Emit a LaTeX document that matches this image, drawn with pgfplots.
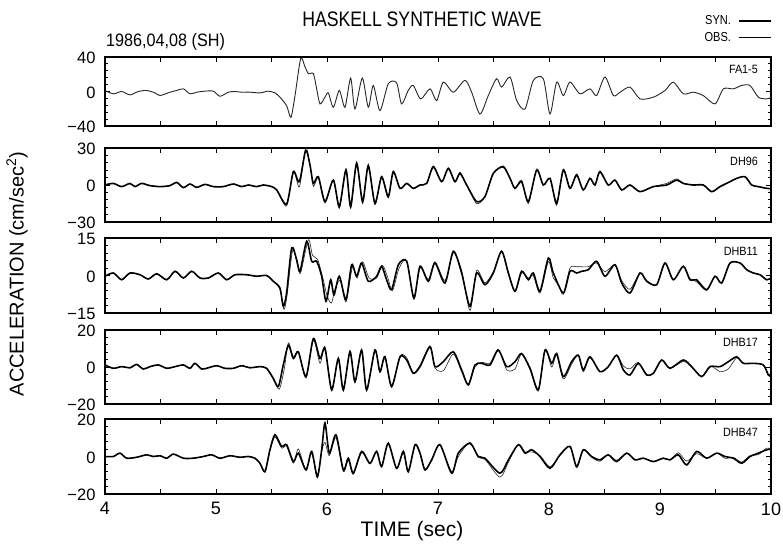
\documentclass[border=0pt]{standalone}
\usepackage{fontspec}
\setmainfont{Liberation Sans}
\usepackage{pgfplots}
\pgfplotsset{compat=1.18}

\pgfplotsset{
  wave/.style={
    scale only axis, width=666pt,
    xmin=4, xmax=10,
    xtick={4,4.5,...,10}, xticklabels={},
    tick align=inside, major tick length=5pt, minor tick length=3pt,
    every tick/.style={black, line width=0.9pt},
    axis line style={line width=1.3pt},
    tick label style={font=\fontsize{16.5}{16.5}\selectfont},
    yticklabel style={xshift=-6pt, yshift=-1pt},
    ytick pos=both, xtick pos=both,
    clip=true,
  },
  syn/.style={black, line width=1.6pt, smooth, tension=0.45},
  obs/.style={black!85, line width=0.6pt, smooth, tension=0.45},
}
\tikzset{stn/.style={font=\fontsize{12}{12}\selectfont, anchor=north east, xscale=0.9}}

\begin{document}
\begin{tikzpicture}
\path[use as bounding box] (0,0) rectangle (783pt,-547pt);

% headings
\node[font=\fontsize{21}{21}\selectfont, xscale=0.84] at (422pt,-19pt) {HASKELL SYNTHETIC WAVE};
\node[font=\fontsize{18}{18}\selectfont, anchor=west, xscale=0.9] at (103pt,-42pt) {1986,04,08 (SH)};
\node[font=\fontsize{13}{13}\selectfont, anchor=east, xscale=0.85] at (734pt,-20pt) {SYN.};
\node[font=\fontsize{13}{13}\selectfont, anchor=east, xscale=0.85] at (734pt,-37pt) {OBS.};
\draw[line width=1.6pt] (739pt,-21pt) -- (771pt,-21pt);
\draw[line width=0.6pt] (739pt,-37pt) -- (771pt,-37pt);

% axis titles
\node[font=\fontsize{20}{20}\selectfont, rotate=90] at (17pt,-274pt) {ACCELERATION (cm/sec\textsuperscript{2})};
\node[font=\fontsize{21}{21}\selectfont] at (412pt,-531pt) {TIME (sec)};

% FA1-5
\begin{axis}[wave, at={(105pt,-57pt)}, anchor=north west, height=69pt,
  ymin=-40, ymax=40, ytick={-40,0,40}, yticklabels={−40,0,40},
  minor ytick={-32,-24,...,32}]
\addplot[obs, line width=0.9pt] coordinates {
(4.000,1.2)(4.075,-2.7)(4.150,0)(4.225,-3.9)(4.300,0)(4.375,1.2)(4.450,-1.6)(4.496,-4.7)(4.586,-0.8)(4.646,1.2)(4.706,3.1)(4.766,-2.7)(4.826,-0.8)(4.901,0.4)(4.976,0.4)(5.036,-5.5)(5.111,-0.8)(5.171,0)(5.231,-0.8)(5.306,-0.8)(5.396,-1.6)(5.471,0.4)(5.531,-1.6)(5.576,-6.6)(5.636,-16.4)(5.675,-30.0)(5.712,-4.7)(5.763,38.2)(5.802,28.5)(5.832,20.7)(5.877,20.7)(5.907,3.1)(5.937,-14.4)(5.982,-6.6)(6.012,-1.6)(6.057,-18.3)(6.111,1.2)(6.162,-18.3)(6.213,15.6)(6.252,-20.3)(6.318,15.6)(6.372,-18.3)(6.417,7.0)(6.477,-22.2)(6.552,9.0)(6.627,10.1)(6.672,-14.4)(6.732,1.2)(6.777,7.0)(6.844,-8.6)(6.928,3.1)(6.988,-10.5)(7.048,10.9)(7.138,-0.8)(7.243,12.9)(7.303,-0.8)(7.378,-26.1)(7.453,-4.7)(7.528,14.8)(7.573,5.1)(7.649,16.8)(7.709,-10.5)(7.784,-20.3)(7.859,12.9)(7.949,14.8)(8.009,-26.1)(8.069,10.9)(8.129,-4.7)(8.189,10.9)(8.279,-2.7)(8.369,3.1)(8.429,-4.7)(8.504,16.8)(8.580,-4.7)(8.640,-0.8)(8.730,5.1)(8.820,-8.6)(8.940,-6.6)(9.045,1.2)(9.120,10.9)(9.210,-2.7)(9.300,-0.8)(9.390,-4.7)(9.496,-14.4)(9.571,3.1)(9.661,3.1)(9.736,7.0)(9.811,7.0)(9.886,-6.6)(9.961,-8.6)(10,-7)};
\node[stn] at (rel axis cs:0.985,0.93) {FA1-5};
\end{axis}

% DH96
\begin{axis}[wave, at={(105pt,-148pt)}, anchor=north west, height=74pt,
  ymin=-30, ymax=30, ytick={-30,0,30}, yticklabels={−30,0,30},
  minor ytick={-24,-18,...,24}]
\addplot[obs] coordinates {
(4.000,0)(4.075,1.3)(4.150,-1.3)(4.225,1.3)(4.270,-1.3)(4.330,1.3)(4.405,-0.5)(4.496,-1.3)(4.586,-0.5)(4.646,2.1)(4.706,-2.1)(4.766,0.8)(4.826,-1.9)(4.901,0.5)(4.976,-1.3)(5.066,-1.3)(5.156,0.8)(5.231,-1.3)(5.291,0)(5.366,-1.3)(5.426,0)(5.501,-1.3)(5.547,-4.0)(5.636,-17.0)(5.697,11.5)(5.751,-1.5)(5.808,30.0)(5.847,16.1)(5.877,-1.0)(5.922,6.0)(5.982,-14.5)(6.057,4.0)(6.111,-19.0)(6.171,13.0)(6.213,-19.0)(6.267,19.0)(6.321,-15.0)(6.372,17.0)(6.432,-16.0)(6.492,6.0)(6.552,-10.5)(6.597,11.5)(6.658,-2.7)(6.718,1.3)(6.777,-2.7)(6.838,0)(6.898,1.3)(6.958,15.5)(7.033,2.7)(7.093,14.0)(7.153,2.7)(7.198,10.5)(7.258,0)(7.348,-15.0)(7.423,-9.4)(7.498,9.4)(7.588,15.5)(7.649,5.4)(7.693,-2.7)(7.753,4.0)(7.814,-15.0)(7.889,13.0)(7.949,0)(8.009,5.4)(8.069,-16.5)(8.129,13.0)(8.189,-2.7)(8.249,9.0)(8.309,-4.0)(8.369,5.4)(8.414,0)(8.459,11.5)(8.534,0)(8.594,4.0)(8.655,-4.0)(8.730,0)(8.820,-5.4)(8.940,-1.3)(9.060,1.3)(9.150,5.0)(9.210,1.3)(9.300,0)(9.390,0)(9.466,-5.4)(9.541,-1.3)(9.631,2.7)(9.691,5.4)(9.766,6.7)(9.826,0)(9.886,-1.3)(9.961,-2.7)(10,-3)};
\addplot[syn] coordinates {
(4.000,0)(4.075,1.3)(4.150,-1.3)(4.225,1.3)(4.270,-1.3)(4.330,1.3)(4.405,-0.5)(4.496,-1.3)(4.586,-0.5)(4.646,2.1)(4.706,-2.1)(4.766,0.8)(4.826,-1.9)(4.901,0.5)(4.976,-1.3)(5.066,-1.3)(5.156,0.8)(5.231,-1.3)(5.291,0)(5.366,-1.3)(5.426,0)(5.501,-1.3)(5.547,-4.0)(5.636,-15.5)(5.697,10.7)(5.751,2.7)(5.808,28.1)(5.847,16.1)(5.877,1.3)(5.922,6.7)(5.982,-13.4)(6.057,4.0)(6.111,-17.4)(6.171,12.1)(6.213,-17.4)(6.267,17.4)(6.321,-13.4)(6.372,15.5)(6.432,-14.7)(6.492,6.7)(6.552,-9.4)(6.597,10.7)(6.658,-2.7)(6.718,1.3)(6.777,-2.7)(6.838,0)(6.898,1.3)(6.958,14.7)(7.033,2.7)(7.093,13.4)(7.153,2.7)(7.198,9.4)(7.258,0)(7.348,-13.4)(7.423,-9.4)(7.498,9.4)(7.588,14.7)(7.649,5.4)(7.693,-2.7)(7.753,2.7)(7.814,-13.4)(7.889,12.1)(7.949,0)(8.009,5.4)(8.069,-14.7)(8.129,12.1)(8.189,-2.7)(8.249,8.0)(8.309,-4.0)(8.369,5.4)(8.414,0)(8.459,10.7)(8.534,0)(8.594,4.0)(8.655,-4.0)(8.730,0)(8.820,-5.4)(8.940,-1.3)(9.060,0)(9.150,4.0)(9.210,1.3)(9.300,0)(9.390,0)(9.466,-5.4)(9.541,-1.3)(9.631,2.7)(9.691,5.4)(9.766,6.7)(9.826,0)(9.886,-1.3)(9.961,-2.7)(10,-3)};
\node[stn] at (rel axis cs:0.985,0.93) {DH96};
\end{axis}

% DHB11
\begin{axis}[wave, at={(105pt,-238pt)}, anchor=north west, height=75pt,
  ymin=-15, ymax=15, ytick={-15,0,15}, yticklabels={−15,0,15},
  minor ytick={-12,-9,...,12}]
\addplot[obs] coordinates {
(4.000,-0.3)(4.075,1.0)(4.150,-1.7)(4.225,1.0)(4.315,0.3)(4.390,-1.4)(4.466,0.7)(4.556,-1.7)(4.631,1.7)(4.706,-1.0)(4.781,1.7)(4.856,-1.0)(4.931,-1.0)(5.021,1.0)(5.096,-1.7)(5.171,0.3)(5.276,0.3)(5.366,-0.3)(5.456,0)(5.516,-2.3)(5.576,-5.5)(5.612,-13.5)(5.640,-8.0)(5.690,10.0)(5.735,4.0)(5.762,1.0)(5.832,14.3)(5.870,8.0)(5.915,6.5)(5.960,-0.5)(6.000,-8.0)(6.040,-11.0)(6.075,-5.0)(6.120,-2.0)(6.171,-10.5)(6.230,3.5)(6.270,-1.0)(6.320,5.5)(6.380,-1.0)(6.447,-1.0)(6.500,4.0)(6.545,-0.5)(6.590,-6.0)(6.650,3.0)(6.718,6.0)(6.783,-9.5)(6.838,3.0)(6.913,-1.5)(6.973,5.5)(7.063,-2.0)(7.138,9.0)(7.213,2.0)(7.288,-14.0)(7.348,2.0)(7.423,-3.0)(7.498,1.5)(7.573,9.7)(7.634,0.5)(7.694,-6.5)(7.753,1.0)(7.814,-1.0)(7.859,0.0)(7.919,-7.0)(7.994,5.5)(8.039,-1.0)(8.090,-4.0)(8.129,-7.5)(8.189,3.0)(8.249,3.5)(8.294,3.5)(8.354,3.5)(8.429,5.0)(8.504,1.5)(8.594,4.3)(8.655,-2.0)(8.730,-5.5)(8.820,1.0)(8.880,-2.0)(8.970,-3.7)(9.045,5.0)(9.120,-1.7)(9.210,3.7)(9.270,-1.2)(9.330,-2.5)(9.420,-6.0)(9.496,-0.3)(9.556,-3.0)(9.631,5.0)(9.721,5.0)(9.781,2.3)(9.841,1.0)(9.901,0.3)(9.961,-1.7)(10,-1)};
\addplot[syn] coordinates {
(4.000,-0.3)(4.075,1.0)(4.150,-1.7)(4.225,1.0)(4.315,0.3)(4.390,-1.4)(4.466,0.7)(4.556,-1.7)(4.631,1.7)(4.706,-1.0)(4.781,1.7)(4.856,-1.0)(4.931,-1.0)(5.021,1.0)(5.096,-1.7)(5.171,0.3)(5.276,0.3)(5.366,-0.3)(5.456,0)(5.516,-2.3)(5.576,-5.0)(5.606,-12.3)(5.636,-7.0)(5.682,11.0)(5.727,6.3)(5.757,1.7)(5.817,13.7)(5.862,5.7)(5.907,5.7)(5.952,-0.3)(5.991,-10.3)(6.033,-1.7)(6.063,-7.7)(6.111,-0.3)(6.171,-9.7)(6.222,4.3)(6.267,-0.3)(6.312,5.0)(6.372,-2.3)(6.447,-0.3)(6.492,3.7)(6.537,-1.7)(6.582,-5.7)(6.643,4.3)(6.718,5.7)(6.783,-9.0)(6.838,3.7)(6.913,-2.3)(6.973,5.0)(7.063,-3.0)(7.138,9.7)(7.213,1.0)(7.288,-12.3)(7.348,1.0)(7.423,-3.7)(7.498,1.0)(7.573,9.7)(7.634,1.0)(7.694,-6.3)(7.753,1.7)(7.814,-1.7)(7.859,1.0)(7.919,-6.3)(7.994,7.0)(8.039,1.0)(8.129,-7.0)(8.189,1.7)(8.249,1.0)(8.294,1.7)(8.354,2.3)(8.429,5.7)(8.504,-0.3)(8.594,4.3)(8.655,-3.0)(8.730,-7.0)(8.820,1.0)(8.880,-2.3)(8.970,-3.7)(9.045,5.0)(9.120,-1.7)(9.210,3.7)(9.270,-1.7)(9.330,-1.7)(9.420,-5.7)(9.496,-0.3)(9.556,-3.0)(9.631,5.0)(9.721,5.0)(9.781,2.3)(9.841,1.0)(9.901,0.3)(9.961,-1.7)(10,-1)};
\node[stn] at (rel axis cs:0.985,0.93) {DHB11};
\end{axis}

% DHB17
\begin{axis}[wave, at={(105pt,-330pt)}, anchor=north west, height=74pt,
  ymin=-20, ymax=20, ytick={-20,0,20}, yticklabels={−20,0,20},
  minor ytick={-16,-12,...,16}]
\addplot[obs] coordinates {
(4.000,1.1)(4.075,-0.7)(4.150,0.2)(4.225,-0.4)(4.285,1.4)(4.345,-1.1)(4.405,0.2)(4.481,1.1)(4.556,-0.7)(4.631,0.2)(4.706,1.1)(4.766,-0.7)(4.811,2.0)(4.871,-1.1)(4.931,-0.4)(5.006,0.7)(5.081,-0.7)(5.156,-0.7)(5.231,0.7)(5.306,-0.4)(5.396,0.2)(5.456,-0.7)(5.516,-6.5)(5.570,-12.0)(5.615,-1.0)(5.652,13.0)(5.697,5.5)(5.742,8.5)(5.811,-6.0)(5.877,14.5)(5.937,2.0)(5.982,11.0)(6.042,-13.0)(6.102,5.0)(6.147,-13.0)(6.207,9.0)(6.252,-8.5)(6.312,9.5)(6.357,-13.0)(6.432,9.5)(6.477,-3.0)(6.522,6.0)(6.582,-11.0)(6.658,6.0)(6.718,5.0)(6.777,-3.0)(6.838,1.0)(6.928,11.5)(6.973,-0.5)(7.048,-2.0)(7.138,7.0)(7.213,-2.5)(7.273,-10.0)(7.333,0.0)(7.393,2.5)(7.468,2.0)(7.543,9.5)(7.619,-1.5)(7.694,-1.0)(7.753,7.0)(7.829,-1.5)(7.904,-13.0)(7.964,9.5)(8.024,0.0)(8.069,6.5)(8.129,-6.5)(8.204,1.5)(8.264,6.4)(8.309,-2.5)(8.369,5.0)(8.459,-2.5)(8.534,0.2)(8.610,6.4)(8.670,0.5)(8.730,-1.0)(8.805,2.5)(8.880,-4.3)(8.940,-3.4)(9.015,3.8)(9.090,-0.7)(9.210,3.0)(9.285,0.0)(9.375,-5.2)(9.451,0.5)(9.541,-2.5)(9.616,-1.0)(9.691,5.0)(9.751,2.0)(9.841,2.0)(9.931,1.1)(9.976,-4.3)(10,-5)};
\addplot[syn] coordinates {
(4.000,1.1)(4.075,-0.7)(4.150,0.2)(4.225,-0.4)(4.285,1.4)(4.345,-1.1)(4.405,0.2)(4.481,1.1)(4.556,-0.7)(4.631,0.2)(4.706,1.1)(4.766,-0.7)(4.811,2.0)(4.871,-1.1)(4.931,-0.4)(5.006,0.7)(5.081,-0.7)(5.156,-0.7)(5.231,0.7)(5.306,-0.4)(5.396,0.2)(5.456,-0.7)(5.516,-6.1)(5.562,-10.5)(5.606,1.1)(5.652,11.8)(5.697,4.6)(5.742,8.2)(5.811,-5.2)(5.877,15.4)(5.937,4.6)(5.982,10.0)(6.042,-12.3)(6.102,4.6)(6.147,-12.3)(6.207,8.2)(6.252,-7.9)(6.312,9.1)(6.357,-12.3)(6.432,9.1)(6.477,-2.5)(6.522,5.5)(6.582,-10.5)(6.658,5.5)(6.718,3.8)(6.777,-3.4)(6.838,0.2)(6.928,10.9)(6.973,0.2)(7.048,2.9)(7.138,8.2)(7.213,-1.6)(7.273,-9.6)(7.333,1.1)(7.393,2.0)(7.468,1.1)(7.543,9.1)(7.619,0.2)(7.694,2.9)(7.753,7.3)(7.829,-0.7)(7.904,-12.3)(7.964,9.1)(8.024,2.0)(8.069,7.3)(8.129,-5.2)(8.204,2.9)(8.264,6.4)(8.309,-1.6)(8.369,5.5)(8.459,-2.5)(8.534,0.2)(8.610,6.4)(8.670,-1.6)(8.730,-4.3)(8.805,2.0)(8.880,-4.3)(8.940,-3.4)(9.015,3.8)(9.090,-0.7)(9.210,3.8)(9.285,0.2)(9.375,-5.2)(9.451,0.2)(9.541,0.2)(9.616,2.9)(9.691,5.5)(9.751,2.0)(9.841,2.0)(9.931,1.1)(9.976,-4.3)(10,-5)};
\node[stn] at (rel axis cs:0.985,0.93) {DHB17};
\end{axis}

% DHB47
\begin{axis}[wave, at={(105pt,-419pt)}, anchor=north west, height=75pt,
  ymin=-20, ymax=20, ytick={-20,0,20}, yticklabels={−20,0,20},
  minor ytick={-16,-12,...,16},
  xticklabels={4,,5,,6,,7,,8,,9,,10},
  xticklabel style={font=\fontsize{18}{18}\selectfont, yshift=-5pt}]
\addplot[obs] coordinates {
(4.000,0)(4.075,0)(4.135,1.8)(4.195,-0.9)(4.285,-0.4)(4.375,0.9)(4.435,0)(4.496,0.4)(4.556,-0.9)(4.616,1.3)(4.706,-0.9)(4.796,-0.9)(4.886,0)(4.961,0.9)(5.036,-0.9)(5.126,0.4)(5.216,-0.4)(5.291,0)(5.351,-0.9)(5.396,-3.6)(5.441,-8.5)(5.486,3.0)(5.531,10.5)(5.591,4.5)(5.636,5.5)(5.697,-3.5)(5.742,4.0)(5.811,-7.5)(5.862,2.0)(5.913,-11.5)(5.952,2.5)(5.982,7.5)(6.021,0.5)(6.081,10.0)(6.147,-8.0)(6.192,-2.0)(6.237,-9.5)(6.312,2.0)(6.387,-4.0)(6.447,3.0)(6.492,-5.0)(6.552,7.0)(6.627,-6.5)(6.688,2.0)(6.732,-8.5)(6.793,6.0)(6.838,1.5)(6.883,-7.5)(6.943,-1.5)(7.018,6.0)(7.123,-8.0)(7.183,0.0)(7.288,7.5)(7.363,-0.5)(7.423,-1.5)(7.558,-11.0)(7.634,-3.0)(7.724,6.5)(7.784,2.5)(7.844,2.5)(7.919,0.5)(8.009,-5.5)(8.099,0.5)(8.189,5.4)(8.249,-6.0)(8.309,3.6)(8.384,-0.5)(8.459,-2.5)(8.534,0.9)(8.610,-2.0)(8.700,1.8)(8.775,-1.8)(8.850,-0.9)(8.940,-2.7)(9.030,-0.9)(9.090,-1.8)(9.165,2.0)(9.240,-2.5)(9.330,1.5)(9.420,-0.9)(9.511,1.8)(9.586,-1.0)(9.661,-0.5)(9.736,-3.0)(9.811,0.5)(9.886,1.0)(9.961,4.5)(10,4)};
\addplot[syn] coordinates {
(4.000,0)(4.075,0)(4.135,1.8)(4.195,-0.9)(4.285,-0.4)(4.375,0.9)(4.435,0)(4.496,0.4)(4.556,-0.9)(4.616,1.3)(4.706,-0.9)(4.796,-0.9)(4.886,0)(4.961,0.9)(5.036,-0.9)(5.126,0.4)(5.216,-0.4)(5.291,0)(5.351,-0.9)(5.396,-3.6)(5.441,-8.0)(5.486,3.6)(5.531,11.6)(5.591,5.4)(5.636,6.3)(5.697,-2.7)(5.742,1.8)(5.811,-7.1)(5.862,2.7)(5.913,-10.7)(5.952,3.6)(5.982,17.9)(6.021,1.8)(6.081,11.6)(6.147,-7.1)(6.192,-0.9)(6.237,-8.9)(6.312,2.7)(6.387,-3.6)(6.447,2.7)(6.492,-5.4)(6.552,7.1)(6.627,-6.3)(6.688,2.7)(6.732,-8.0)(6.793,6.3)(6.838,1.8)(6.883,-7.1)(6.943,-1.8)(7.018,6.3)(7.123,-8.9)(7.183,1.8)(7.288,7.1)(7.363,0)(7.423,-0.9)(7.558,-8.9)(7.634,-1.8)(7.724,6.3)(7.784,1.8)(7.844,3.6)(7.919,0)(8.009,-6.3)(8.099,0.9)(8.189,5.4)(8.249,-5.4)(8.309,3.6)(8.384,0)(8.459,-1.8)(8.534,0.9)(8.610,-2.7)(8.700,1.8)(8.775,-1.8)(8.850,-0.9)(8.940,-2.7)(9.030,-0.9)(9.090,-1.8)(9.165,0.9)(9.240,-4.5)(9.330,2.7)(9.420,-0.9)(9.511,1.8)(9.586,0)(9.661,-0.9)(9.736,-3.6)(9.811,0)(9.886,1.8)(9.961,3.6)(10,4)};
\node[stn] at (rel axis cs:0.985,0.93) {DHB47};
\end{axis}
\end{tikzpicture}
\end{document}
